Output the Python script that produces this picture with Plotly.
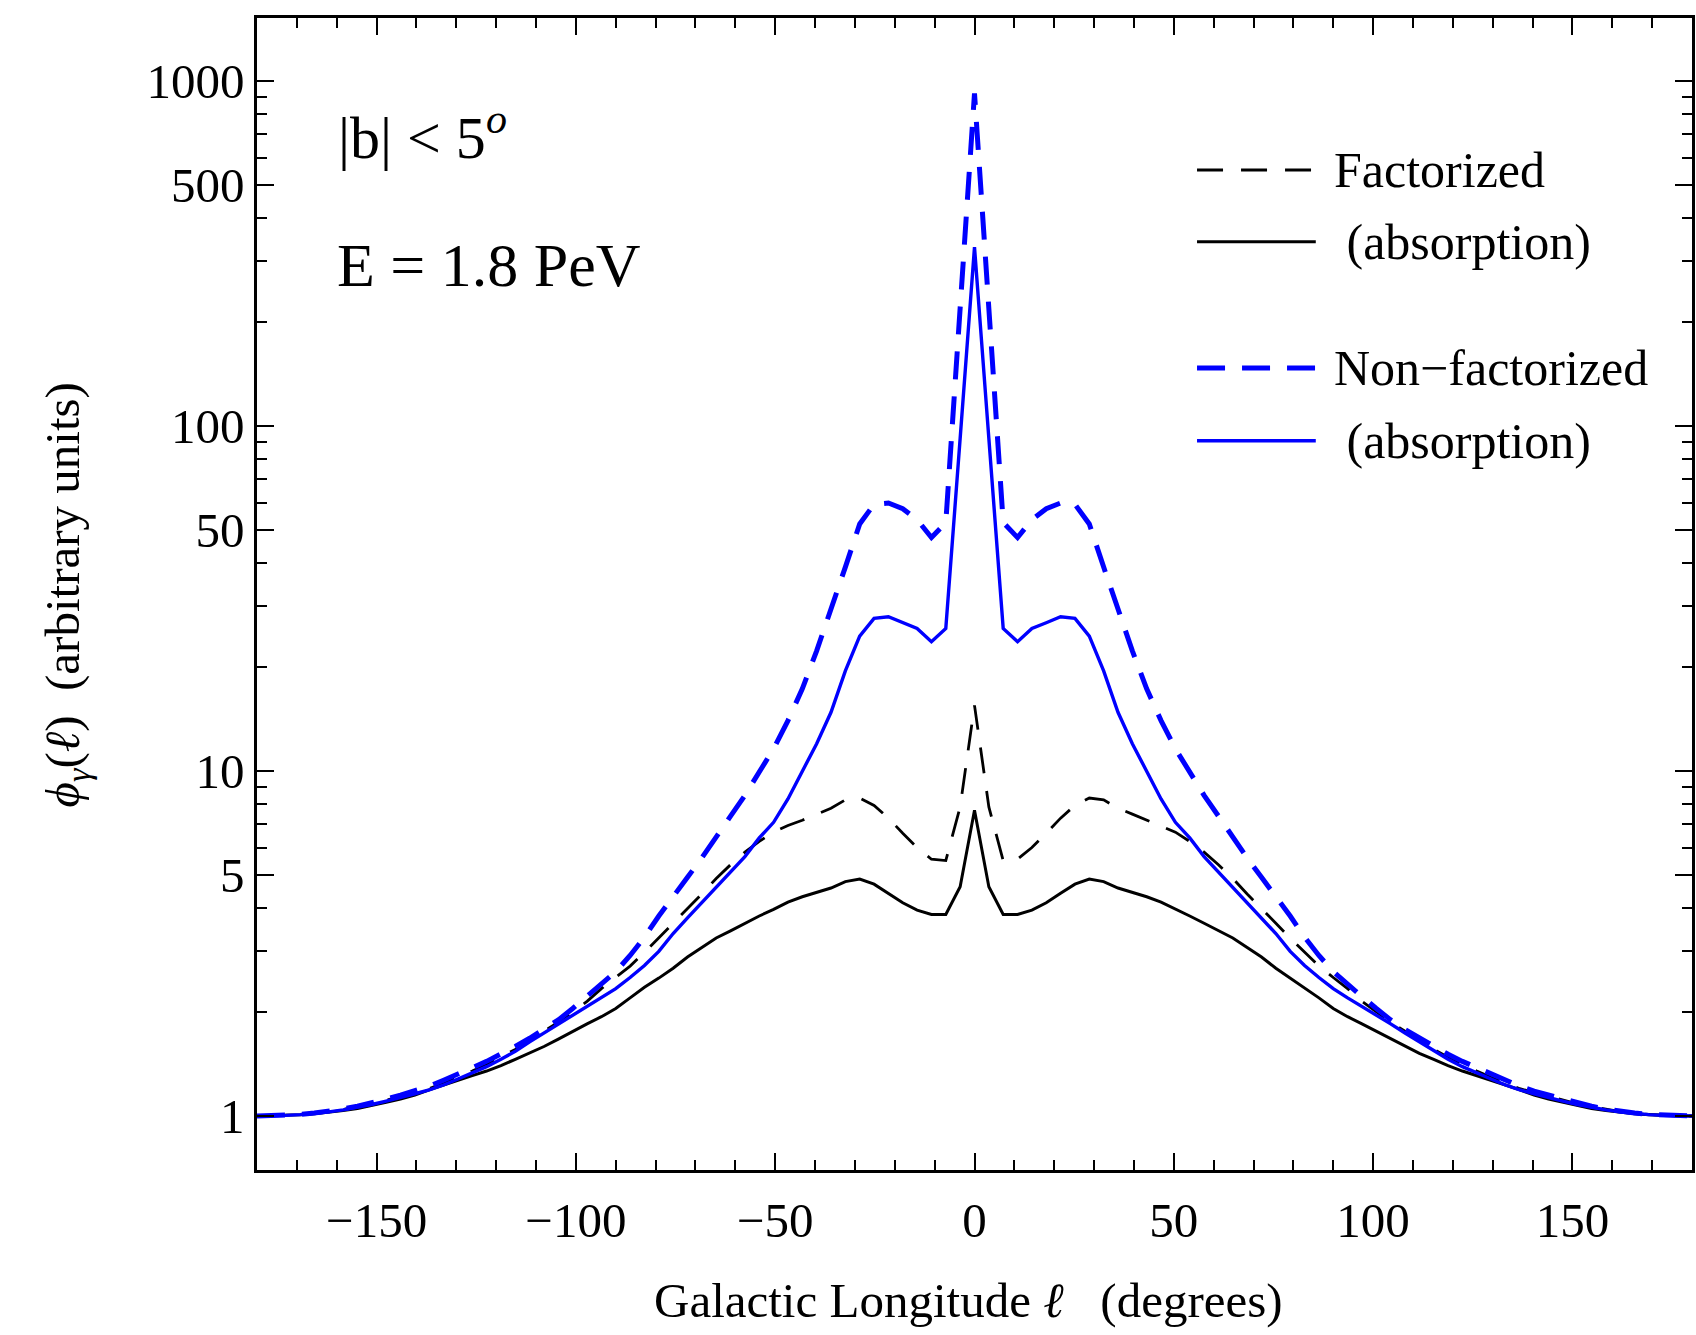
import plotly.graph_objects as go

# Galactic longitude sampling grid (degrees), 3.6 deg steps from -180 to 180
LONGITUDE = [round(-180 + 3.6 * k, 1) for k in range(101)]

# Gamma-ray flux profiles, |b| < 5 deg, E = 1.8 PeV (arbitrary units)
FACTORIZED = [
    1.0, 1.001, 1.004, 1.01, 1.018, 1.03, 1.045, 1.063, 1.085, 1.11,
    1.14, 1.17, 1.20, 1.245, 1.295, 1.35, 1.41, 1.48, 1.56, 1.66,
    1.76, 1.87, 2.0, 2.15, 2.34, 2.52, 2.72, 2.98, 3.28, 3.62,
    4.0, 4.40, 4.88, 5.35, 5.82, 6.25, 6.65, 6.95, 7.2, 7.5,
    7.8, 8.25, 8.35, 7.95, 7.3, 6.6, 6.0, 5.55, 5.5, 7.87,
    15.5,
    7.87, 5.5, 5.55, 6.0, 6.6, 7.3, 7.95, 8.35, 8.25, 7.8,
    7.5, 7.2, 6.95, 6.65, 6.25, 5.82, 5.35, 4.88, 4.40, 4.0,
    3.62, 3.28, 2.98, 2.72, 2.52, 2.34, 2.15, 2.0, 1.87, 1.76,
    1.66, 1.56, 1.48, 1.41, 1.35, 1.295, 1.245, 1.20, 1.17, 1.14,
    1.11, 1.085, 1.063, 1.045, 1.03, 1.018, 1.01, 1.004, 1.001, 1.0,
]
FACTORIZED_ABS = [
    1.0, 1.001, 1.003, 1.008, 1.015, 1.025, 1.037, 1.052, 1.072, 1.095,
    1.12, 1.15, 1.19, 1.23, 1.27, 1.31, 1.35, 1.40, 1.46, 1.52,
    1.59, 1.67, 1.76, 1.85, 1.94, 2.05, 2.20, 2.36, 2.51, 2.68,
    2.89, 3.08, 3.28, 3.44, 3.62, 3.80, 3.97, 4.17, 4.32, 4.45,
    4.58, 4.78, 4.86, 4.70, 4.42, 4.15, 3.95, 3.84, 3.84, 4.62,
    7.7,
    4.62, 3.84, 3.84, 3.95, 4.15, 4.42, 4.70, 4.86, 4.78, 4.58,
    4.45, 4.32, 4.17, 3.97, 3.80, 3.62, 3.44, 3.28, 3.08, 2.89,
    2.68, 2.51, 2.36, 2.20, 2.05, 1.94, 1.85, 1.76, 1.67, 1.59,
    1.52, 1.46, 1.40, 1.35, 1.31, 1.27, 1.23, 1.19, 1.15, 1.12,
    1.095, 1.072, 1.052, 1.037, 1.025, 1.015, 1.008, 1.003, 1.001, 1.0,
]
NON_FACTORIZED = [
    1.0, 1.001, 1.005, 1.011, 1.02, 1.032, 1.048, 1.068, 1.09, 1.12,
    1.15, 1.18, 1.22, 1.27, 1.32, 1.38, 1.44, 1.51, 1.59, 1.68,
    1.78, 1.90, 2.05, 2.22, 2.40, 2.62, 2.92, 3.3, 3.80, 4.35,
    4.92, 5.6, 6.4, 7.4, 8.5, 9.9, 11.6, 14.0, 17.3, 22.3,
    29.2, 39.0, 52.0, 59.3, 59.8, 57.6, 53.5, 47.5, 52.5, 219.0,
    920.0,
    219.0, 52.5, 47.5, 53.5, 57.6, 59.8, 59.3, 52.0, 39.0, 29.2,
    22.3, 17.3, 14.0, 11.6, 9.9, 8.5, 7.4, 6.4, 5.6, 4.92,
    4.35, 3.80, 3.3, 2.92, 2.62, 2.40, 2.22, 2.05, 1.90, 1.78,
    1.68, 1.59, 1.51, 1.44, 1.38, 1.32, 1.27, 1.22, 1.18, 1.15,
    1.12, 1.09, 1.068, 1.048, 1.032, 1.02, 1.011, 1.005, 1.001, 1.0,
]
NON_FACTORIZED_ABS = [
    1.0, 1.001, 1.004, 1.009, 1.017, 1.028, 1.042, 1.06, 1.08, 1.105,
    1.13, 1.16, 1.19, 1.23, 1.28, 1.33, 1.39, 1.46, 1.54, 1.64,
    1.74, 1.85, 1.96, 2.08, 2.20, 2.34, 2.52, 2.73, 3.0, 3.38,
    3.75, 4.15, 4.62, 5.1, 5.65, 6.4, 7.1, 8.3, 10.0, 12.0,
    14.8, 19.5, 24.6, 27.7, 28.0, 26.9, 25.9, 23.7, 25.9, 92.0,
    330.0,
    92.0, 25.9, 23.7, 25.9, 26.9, 28.0, 27.7, 24.6, 19.5, 14.8,
    12.0, 10.0, 8.3, 7.1, 6.4, 5.65, 5.1, 4.62, 4.15, 3.75,
    3.38, 3.0, 2.73, 2.52, 2.34, 2.20, 2.08, 1.96, 1.85, 1.74,
    1.64, 1.54, 1.46, 1.39, 1.33, 1.28, 1.23, 1.19, 1.16, 1.13,
    1.105, 1.08, 1.06, 1.042, 1.028, 1.017, 1.009, 1.004, 1.001, 1.0,
]

X_TICKS = [-150, -100, -50, 0, 50, 100, 150]
Y_TICKS = [1, 5, 10, 50, 100, 500, 1000]
Y_TICK_TEXT = ["1", "5", "10", "50", "100", "500", "1000"]
Y_MINOR = [2, 3, 4, 6, 7, 8, 9, 20, 30, 40, 60, 70, 80, 90,
           200, 300, 400, 600, 700, 800, 900]

SERIES = [
    ("Factorized", FACTORIZED, "black", 2.8, "26px,18px"),
    ("(absorption)", FACTORIZED_ABS, "black", 3.0, "solid"),
    ("Non\u2212factorized", NON_FACTORIZED, "#0000ff", 5.0, "28px,17px"),
    ("(absorption)", NON_FACTORIZED_ABS, "#0000ff", 3.4, "solid"),
]

W, H = 1696, 1335
PL, PR, PT, PB = 257, 1695, 18, 1170
FONT = "Liberation Serif, Times New Roman, serif"


def px(x):
    return (x - PL) / (PR - PL)


def py(y):
    return (PB - y) / (PB - PT)


fig = go.Figure()
for name, values, color, width, dash in SERIES:
    fig.add_trace(go.Scatter(
        x=LONGITUDE, y=values, mode="lines", name=name, showlegend=False,
        line=dict(color=color, width=width, dash=dash),
    ))

axis_common = dict(
    showline=True, linecolor="black", linewidth=2.5, mirror="ticks",
    ticks="inside", ticklen=17, tickwidth=2, tickcolor="black",
    showgrid=False, zeroline=False,
    tickfont=dict(family=FONT, size=49, color="black"),
)

fig.update_xaxes(
    range=[-180, 180], tickmode="array", tickvals=X_TICKS,
    ticklabelstandoff=5,
    minor=dict(ticks="inside", ticklen=10, tickwidth=2, tickcolor="black",
               dtick=10, tick0=0, showgrid=False),
    **axis_common,
)
fig.update_yaxes(
    type="log", range=[-0.1565, 3.1826], tickmode="array",
    tickvals=Y_TICKS, ticktext=Y_TICK_TEXT,
    minor=dict(ticks="inside", ticklen=10, tickwidth=2, tickcolor="black",
               tickvals=Y_MINOR, showgrid=False),
    **axis_common,
)

annotations = [
    dict(x=px(336), y=py(134), text="|b| &lt; 5<sup><i>o</i></sup>",
         xanchor="left", yanchor="middle", font=dict(size=60)),
    dict(x=px(335), y=py(265), text="E = 1.8 PeV",
         xanchor="left", yanchor="middle", font=dict(size=62)),
    dict(x=px(970), y=py(1300),
         text="Galactic Longitude <i>\u2113</i>\u00a0\u00a0\u00a0(degrees)",
         xanchor="center", yanchor="middle", font=dict(size=49)),
    dict(x=px(65), y=py(595),
         text="<i>\u03d5</i><sub><i>\u03b3</i></sub>(<i>\u2113</i>)\u00a0\u00a0(arbitrary units)",
         xanchor="center", yanchor="middle", textangle=-90, font=dict(size=49)),
]

# Hand-drawn key: sample line plus label for each series
KEY_ROWS = [170, 241.7, 368, 440.7]
KEY_LABELS = ["Factorized", "\u00a0(absorption)", "Non\u2212factorized", "\u00a0(absorption)"]
shapes = []
for (name, values, color, width, dash), y, label in zip(SERIES, KEY_ROWS, KEY_LABELS):
    shapes.append(dict(
        type="line", xref="paper", yref="paper",
        x0=px(1199), x1=px(1318), y0=py(y), y1=py(y),
        line=dict(color=color, width=width, dash=dash),
    ))
    annotations.append(dict(
        x=px(1334), y=py(y), text=label, xanchor="left", yanchor="middle",
        font=dict(size=50),
    ))

for a in annotations:
    a.update(xref="paper", yref="paper", showarrow=False)
    a["font"].update(family=FONT, color="black")

fig.update_layout(
    width=W, height=H,
    margin=dict(l=PL, r=W - PR, t=PT, b=H - PB),
    paper_bgcolor="white", plot_bgcolor="white",
    annotations=annotations, shapes=shapes,
    hovermode=False,
)

fig.write_html("out.html")
